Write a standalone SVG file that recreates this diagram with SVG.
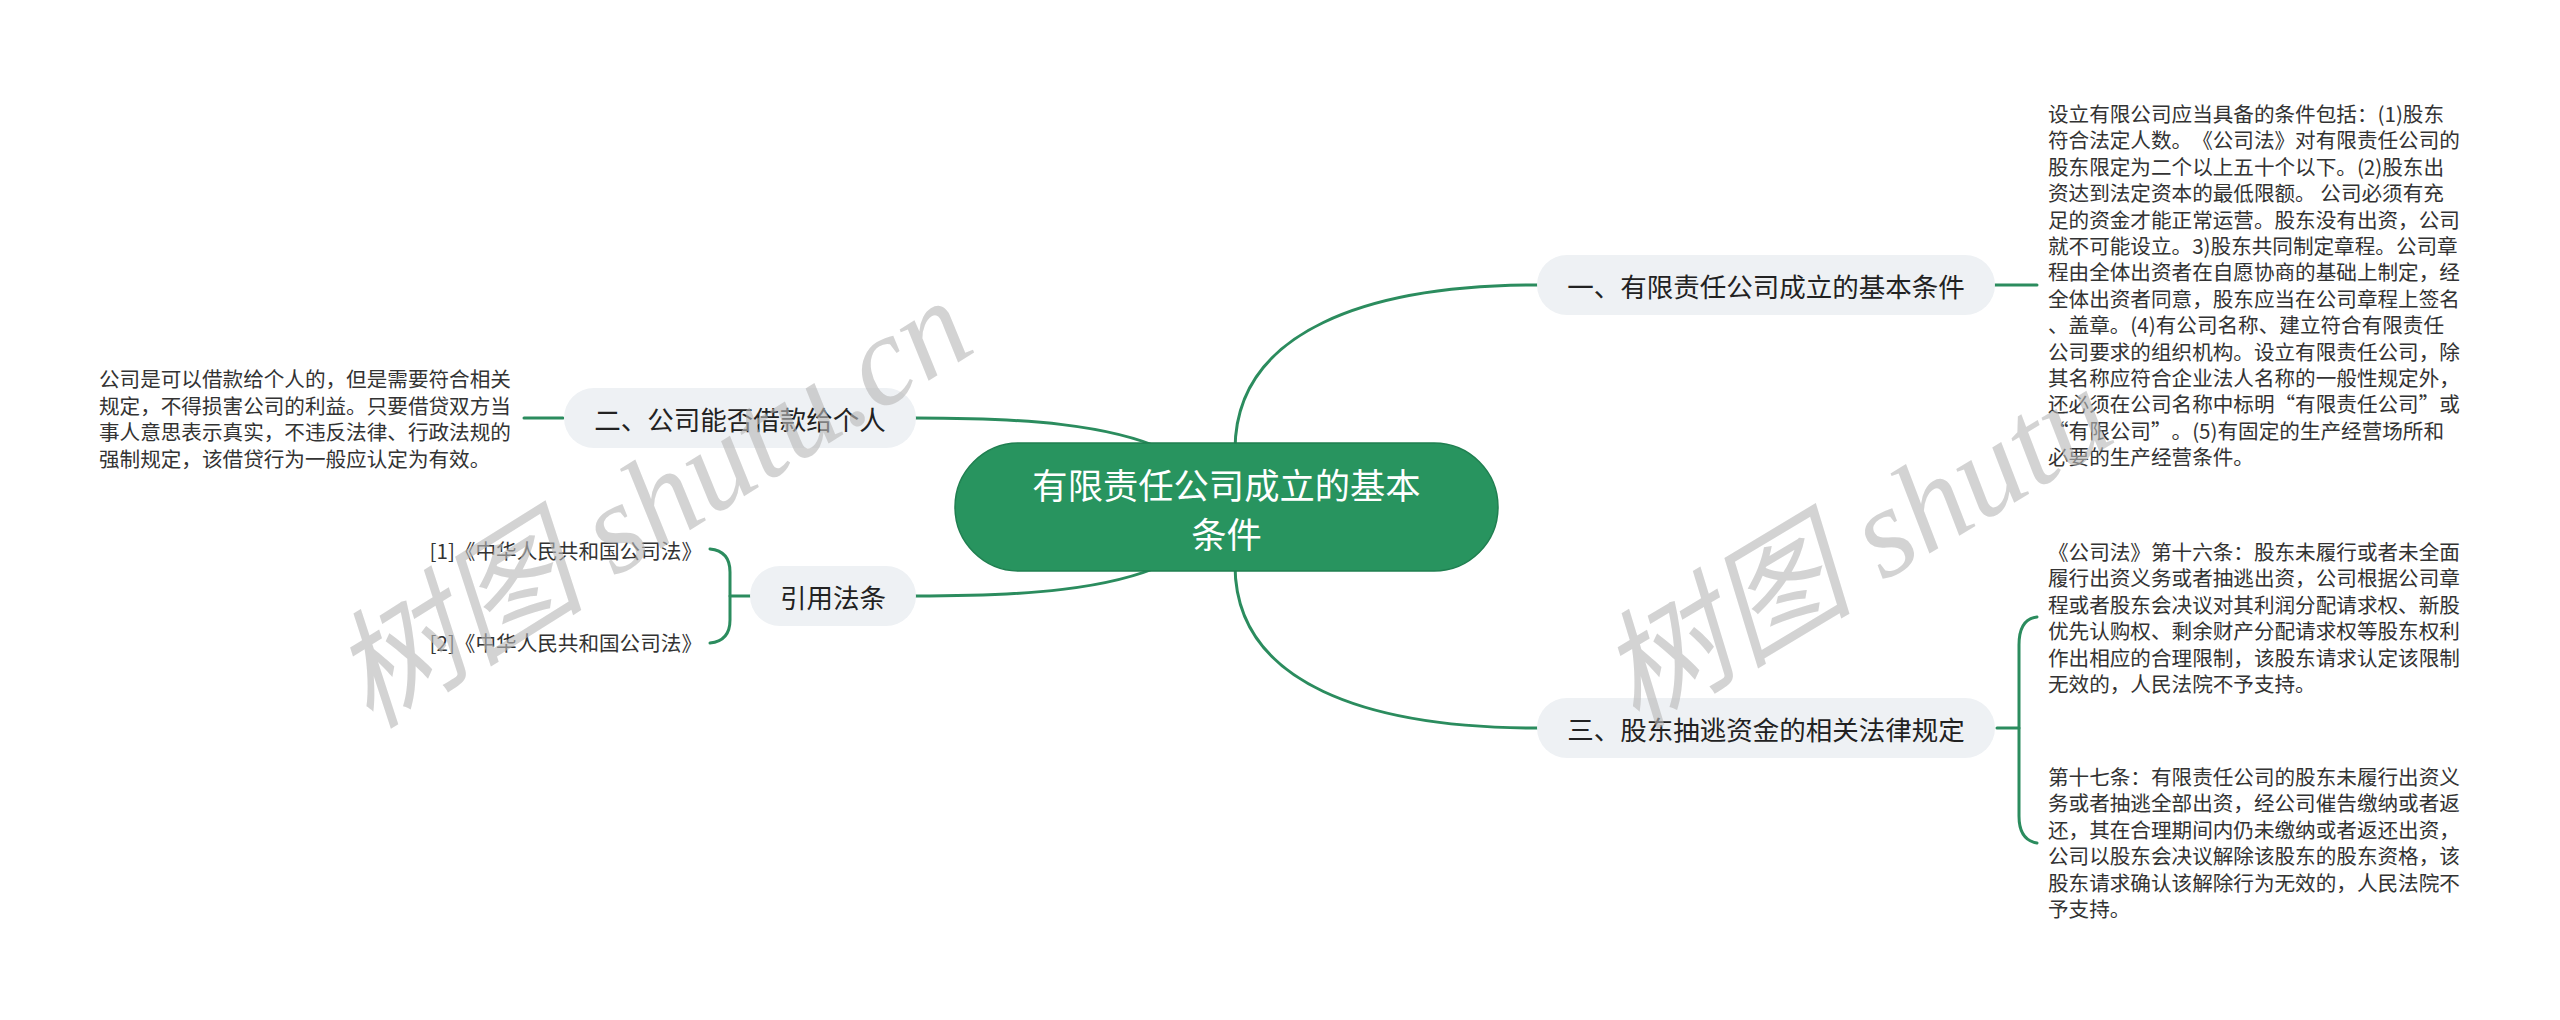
<svg xmlns="http://www.w3.org/2000/svg" width="2560" height="1020" viewBox="0 0 2560 1020">
<defs>
<style>
.bg{fill:#ffffff}
.wm{font-family:"Liberation Serif","Noto Sans CJK SC",serif;font-style:italic;font-size:128px;fill:#b8b8b8;fill-opacity:0.62}
.conn{fill:none;stroke:#2b8c5e;stroke-width:3;stroke-linecap:round}
.root rect{fill:#28945f;stroke:#1f7f50;stroke-width:1.5}
.root text{font-family:"Noto Sans CJK SC","Noto Sans",sans-serif;font-size:35.3px;fill:#ffffff;text-anchor:middle;dominant-baseline:central}
.branch rect{fill:#eef1f4}
.branch text{font-family:"Noto Sans CJK SC","Noto Sans",sans-serif;font-size:26.5px;fill:#222222;text-anchor:middle;dominant-baseline:central}
.leaf text{font-family:"Noto Sans CJK SC","Noto Sans",sans-serif;font-size:20.6px;fill:#333333;dominant-baseline:central;text-spacing-trim:space-all}
</style>
</defs>
<rect class="bg" x="0" y="0" width="2560" height="1020"/>

<g id="connectors">
<path class="conn" d="M1235,450 C1235,330 1370,285 1537,285"/>
<path class="conn" d="M1235,565 C1235,685 1370,728 1537,728"/>
<path class="conn" d="M915,418 C1030,418 1110,425 1165,450"/>
<path class="conn" d="M915,596 C1030,596 1110,589 1165,564"/>
<path class="conn" d="M1995,285 L2037,285"/>
<path class="conn" d="M563,418 L524,418"/>
<path class="conn" d="M1997,728 L2019,728"/>
<path class="conn" d="M2037,617 Q2019,619 2019,645 L2019,816 Q2019,840 2037,843"/>
<path class="conn" d="M750,596 L730,596"/>
<path class="conn" d="M710,549 Q730,551 730,572 L730,620 Q730,641 710,643"/>
</g>

<g id="root" class="root">
<rect x="955" y="443" width="543" height="128" rx="64" ry="64"/>
<text x="1226.5" y="483">有限责任公司成立的基本</text>
<text x="1226.5" y="532">条件</text>
</g>

<g id="node-1" class="branch">
<rect x="1537" y="255" width="458" height="60" rx="30" ry="30"/>
<text x="1766" y="285">一、有限责任公司成立的基本条件</text>
</g>

<g id="node-2" class="branch">
<rect x="564" y="388" width="352" height="60" rx="30" ry="30"/>
<text x="740" y="418">二、公司能否借款给个人</text>
</g>

<g id="node-3" class="branch">
<rect x="1537" y="698" width="458" height="60" rx="30" ry="30"/>
<text x="1766" y="728">三、股东抽逃资金的相关法律规定</text>
</g>

<g id="node-refs" class="branch">
<rect x="750" y="566" width="166" height="60" rx="30" ry="30"/>
<text x="833" y="596">引用法条</text>
</g>

<g id="leaf-1" class="leaf">
<text x="2048" y="113">
<tspan x="2048" dy="0">设立有限公司应当具备的条件包括：(1)股东</tspan>
<tspan x="2048" dy="26.4">符合法定人数。《公司法》对有限责任公司的</tspan>
<tspan x="2048" dy="26.4">股东限定为二个以上五十个以下。(2)股东出</tspan>
<tspan x="2048" dy="26.4">资达到法定资本的最低限额。 公司必须有充</tspan>
<tspan x="2048" dy="26.4">足的资金才能正常运营。股东没有出资，公司</tspan>
<tspan x="2048" dy="26.4">就不可能设立。3)股东共同制定章程。公司章</tspan>
<tspan x="2048" dy="26.4">程由全体出资者在自愿协商的基础上制定，经</tspan>
<tspan x="2048" dy="26.4">全体出资者同意，股东应当在公司章程上签名</tspan>
<tspan x="2048" dy="26.4">、盖章。(4)有公司名称、建立符合有限责任</tspan>
<tspan x="2048" dy="26.4">公司要求的组织机构。设立有限责任公司，除</tspan>
<tspan x="2048" dy="26.4">其名称应符合企业法人名称的一般性规定外，</tspan>
<tspan x="2048" dy="26.4">还必须在公司名称中标明“有限责任公司”或</tspan>
<tspan x="2048" dy="26.4">“有限公司”。(5)有固定的生产经营场所和</tspan>
<tspan x="2048" dy="26.4">必要的生产经营条件。</tspan>
</text>
</g>

<g id="leaf-2" class="leaf">
<text x="99" y="378.4">
<tspan x="99" dy="0">公司是可以借款给个人的，但是需要符合相关</tspan>
<tspan x="99" dy="26.4">规定，不得损害公司的利益。只要借贷双方当</tspan>
<tspan x="99" dy="26.4">事人意思表示真实，不违反法律、行政法规的</tspan>
<tspan x="99" dy="26.4">强制规定，该借贷行为一般应认定为有效。</tspan>
</text>
</g>

<g id="leaf-3a" class="leaf">
<text x="2048" y="551">
<tspan x="2048" dy="0">《公司法》第十六条：股东未履行或者未全面</tspan>
<tspan x="2048" dy="26.4">履行出资义务或者抽逃出资，公司根据公司章</tspan>
<tspan x="2048" dy="26.4">程或者股东会决议对其利润分配请求权、新股</tspan>
<tspan x="2048" dy="26.4">优先认购权、剩余财产分配请求权等股东权利</tspan>
<tspan x="2048" dy="26.4">作出相应的合理限制，该股东请求认定该限制</tspan>
<tspan x="2048" dy="26.4">无效的，人民法院不予支持。</tspan>
</text>
</g>

<g id="leaf-3b" class="leaf">
<text x="2048" y="776">
<tspan x="2048" dy="0">第十七条：有限责任公司的股东未履行出资义</tspan>
<tspan x="2048" dy="26.4">务或者抽逃全部出资，经公司催告缴纳或者返</tspan>
<tspan x="2048" dy="26.4">还，其在合理期间内仍未缴纳或者返还出资，</tspan>
<tspan x="2048" dy="26.4">公司以股东会决议解除该股东的股东资格，该</tspan>
<tspan x="2048" dy="26.4">股东请求确认该解除行为无效的，人民法院不</tspan>
<tspan x="2048" dy="26.4">予支持。</tspan>
</text>
</g>

<g id="ref-1" class="leaf">
<text x="702" y="550" text-anchor="end">[1]《中华人民共和国公司法》</text>
</g>
<g id="ref-2" class="leaf">
<text x="702" y="642" text-anchor="end">[2]《中华人民共和国公司法》</text>
</g>

<g id="watermarks">
<text class="wm" transform="translate(370,730) rotate(-32)">树图 shutu.cn</text>
<text class="wm" transform="translate(1636,730) rotate(-31)">树图 shutu</text>
</g>
</svg>
